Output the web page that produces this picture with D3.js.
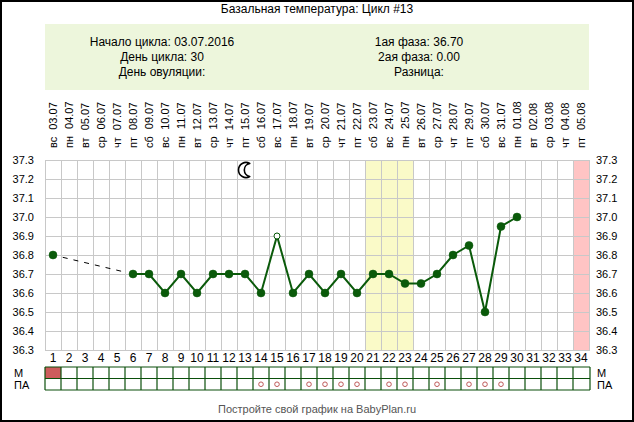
<!DOCTYPE html>
<html>
<head>
<meta charset="utf-8">
<script src="https://cdn.jsdelivr.net/npm/d3@7"></script>
<style>
  body { margin: 0; background: #fff; }
  svg text { font-family: "Liberation Sans", Arial, sans-serif; }
</style>
</head>
<body>
<div id="chart"></div>
<script>
// chart data
const days = d3.range(1, 35);
const dates = ["03.07","04.07","05.07","06.07","07.07","08.07","09.07","10.07","11.07","12.07",
  "13.07","14.07","15.07","16.07","17.07","18.07","19.07","20.07","21.07","22.07","23.07","24.07",
  "25.07","26.07","27.07","28.07","29.07","30.07","31.07","01.08","02.08","03.08","04.08","05.08"];
const weekdays = ["вс","пн","вт","ср","чт","пт","сб","вс","пн","вт","ср","чт","пт","сб",
  "вс","пн","вт","ср","чт","пт","сб","вс","пн","вт","ср","чт","пт","сб","вс","пн","вт","ср","чт","пт"];
const temps = [36.8, null, null, null, null, 36.7, 36.7, 36.6, 36.7, 36.6, 36.7, 36.7, 36.7, 36.6,
  36.9, 36.6, 36.7, 36.6, 36.7, 36.6, 36.7, 36.7, 36.65, 36.65, 36.7, 36.8, 36.85, 36.5, 36.95, 37.0,
  null, null, null, null];
const openDays = [15];
const yTicks = [36.3, 36.4, 36.5, 36.6, 36.7, 36.8, 36.9, 37.0, 37.1, 37.2, 37.3];
const mDays = [1];
const paDays = [14, 15, 17, 18, 19, 20, 22, 23, 25, 27, 28, 29];
const yellowDays = [21, 22, 23];
const pinkDays = [34];
const moonDay = 13;
const infoLeft = ["Начало цикла: 03.07.2016", "День цикла: 30", "День овуляции:"];
const infoRight = ["1ая фаза: 36.70", "2ая фаза: 0.00", "Разница:"];

(function () {
  const width = 634, height = 422;
  const left = 45, right = 589, top = 160, bottom = 350;
  const green = "#0a5a0a";

  const svg = d3.select("#chart").append("svg")
    .attr("width", width).attr("height", height);

  svg.append("rect").attr("x", 1).attr("y", 1)
    .attr("width", width - 2).attr("height", height - 2)
    .attr("fill", "#fff").attr("stroke", "#000").attr("stroke-width", 2);

  svg.append("text").attr("x", 317).attr("y", 13)
    .attr("text-anchor", "middle").style("font-size", "12px")
    .text("Базальная температура: Цикл #13");

  // info box
  svg.append("rect").attr("x", left).attr("y", 24)
    .attr("width", right - left).attr("height", 66).attr("fill", "#edf6dc");
  infoLeft.forEach((t, i) => svg.append("text").attr("x", 162).attr("y", 46 + i * 15)
    .attr("text-anchor", "middle").style("font-size", "12px").text(t));
  infoRight.forEach((t, i) => svg.append("text").attr("x", 419).attr("y", 46 + i * 15)
    .attr("text-anchor", "middle").style("font-size", "12px").text(t));

  const x = d3.scaleBand().domain(days).range([left, right]);
  const cx = d => x(d) + x.bandwidth() / 2;
  const y = d3.scaleLinear().domain([36.3, 37.3]).range([bottom, top]);

  // bands
  svg.selectAll(".yb").data(yellowDays).enter().append("rect")
    .attr("x", d => x(d)).attr("y", top).attr("width", x.bandwidth())
    .attr("height", bottom - top).attr("fill", "#fafac8");
  svg.selectAll(".pb").data(pinkDays).enter().append("rect")
    .attr("x", d => x(d)).attr("y", top).attr("width", x.bandwidth())
    .attr("height", bottom - top).attr("fill", "#ffc4c4");

  // grid
  const grid = svg.append("g").attr("stroke", "#c8c8c8").attr("stroke-width", 1);
  grid.selectAll(".v").data(days.concat([35])).enter().append("line")
    .attr("x1", d => x(d) !== undefined ? x(d) + 0.5 : right + 0.5)
    .attr("x2", d => x(d) !== undefined ? x(d) + 0.5 : right + 0.5)
    .attr("y1", top).attr("y2", bottom);
  grid.selectAll(".h").data(yTicks).enter().append("line")
    .attr("x1", left).attr("x2", right + 1)
    .attr("y1", d => Math.round(y(d)) + 0.5).attr("y2", d => Math.round(y(d)) + 0.5);

  // y labels
  svg.selectAll(".yl").data(yTicks).enter().append("text")
    .attr("x", 34).attr("y", d => y(d) + 4).attr("text-anchor", "end")
    .style("font-size", "11px").text(d => d.toFixed(1));
  svg.selectAll(".yr").data(yTicks).enter().append("text")
    .attr("x", 596).attr("y", d => y(d) + 4).attr("text-anchor", "start")
    .style("font-size", "11px").text(d => d.toFixed(1));

  // date labels
  const dl = svg.selectAll(".dl").data(days).enter().append("text")
    .attr("transform", d => `translate(${cx(d) + 4},148) rotate(-90)`)
    .style("font-size", "11px");
  dl.append("tspan").text((d, i) => weekdays[i]);
  dl.append("tspan").attr("dx", 7).text((d, i) => dates[i]);

  // day numbers
  svg.selectAll(".dn").data(days).enter().append("text")
    .attr("x", d => cx(d)).attr("y", 362).attr("text-anchor", "middle")
    .style("font-size", "12px").text(d => d);

  // moon marker, outlined crescent opening to the right
  const mx = cx(moonDay) + 1, my = 170, R = 7.5, r = 6.6;
  const ang = 60 * Math.PI / 180;
  const tx = mx + R * Math.cos(ang), tyA = my - R * Math.sin(ang), tyB = my + R * Math.sin(ang);
  svg.append("path")
    .attr("d", `M${tx},${tyA} A${R},${R} 0 1 0 ${tx},${tyB} A${r},${r} 0 0 1 ${tx},${tyA} Z`)
    .attr("fill", "#fff").attr("stroke", "#000").attr("stroke-width", 1.6)
    .attr("stroke-linejoin", "round");

  // dashed gap line
  const pts = days.map((d, i) => ({ d, v: temps[i] }));
  const known = pts.filter(p => p.v !== null);
  const a = known[0], b = known[1];
  const ax = cx(a.d), ay = y(a.v), bx = cx(b.d), by = y(b.v);
  const len = Math.hypot(bx - ax, by - ay);
  const ux = (bx - ax) / len, uy = (by - ay) / len;
  svg.append("line")
    .attr("x1", ax + ux * 10).attr("y1", ay + uy * 10)
    .attr("x2", bx - ux * 8).attr("y2", by - uy * 8)
    .attr("stroke", "#000").attr("stroke-width", 1).attr("stroke-dasharray", "5,6");

  const line = d3.line().x(p => cx(p.d)).y(p => y(p.v));
  svg.append("path").attr("d", line(known.slice(1)))
    .attr("fill", "none").attr("stroke", green).attr("stroke-width", 2);

  svg.selectAll(".pt").data(known).enter().append("circle")
    .attr("cx", p => cx(p.d)).attr("cy", p => y(p.v))
    .attr("r", d => openDays.includes(d.d) ? 3 : 4)
    .attr("fill", d => openDays.includes(d.d) ? "#fff" : green)
    .attr("stroke", green).attr("stroke-width", d => openDays.includes(d.d) ? 1 : 0.5);

  // M / PA rows
  const rowTop = 367, rowH = 11.5;
  svg.selectAll(".mf").data(mDays).enter().append("rect")
    .attr("x", d => x(d)).attr("y", rowTop).attr("width", x.bandwidth())
    .attr("height", rowH).attr("fill", "#cd5c5c");
  const rg = svg.append("g").attr("stroke", "#0a4f0a").attr("stroke-width", 1.2);
  [0, 1, 2].forEach(k => rg.append("line").attr("x1", left).attr("x2", right + 1)
    .attr("y1", rowTop + k * rowH).attr("y2", rowTop + k * rowH));
  rg.selectAll(".rv").data(days.concat([35])).enter().append("line")
    .attr("x1", d => x(d) !== undefined ? x(d) : right + 1)
    .attr("x2", d => x(d) !== undefined ? x(d) : right + 1)
    .attr("y1", rowTop).attr("y2", rowTop + 2 * rowH);
  svg.selectAll(".pa").data(paDays).enter().append("circle")
    .attr("cx", d => cx(d)).attr("cy", rowTop + rowH * 1.5)
    .attr("r", 2.3).attr("fill", "none").attr("stroke", "#c05a5a").attr("stroke-width", 1);

  [["М", rowTop + 10], ["ПА", rowTop + rowH + 10]].forEach(([t, yy]) => {
    svg.append("text").attr("x", 14).attr("y", yy).style("font-size", "11px").text(t);
    svg.append("text").attr("x", 597).attr("y", yy).style("font-size", "11px").text(t);
  });

  svg.append("text").attr("x", 317).attr("y", 413).attr("text-anchor", "middle")
    .attr("fill", "#555").style("font-size", "11px")
    .text("Постройте свой график на BabyPlan.ru");
})();
</script>
</body>
</html>
